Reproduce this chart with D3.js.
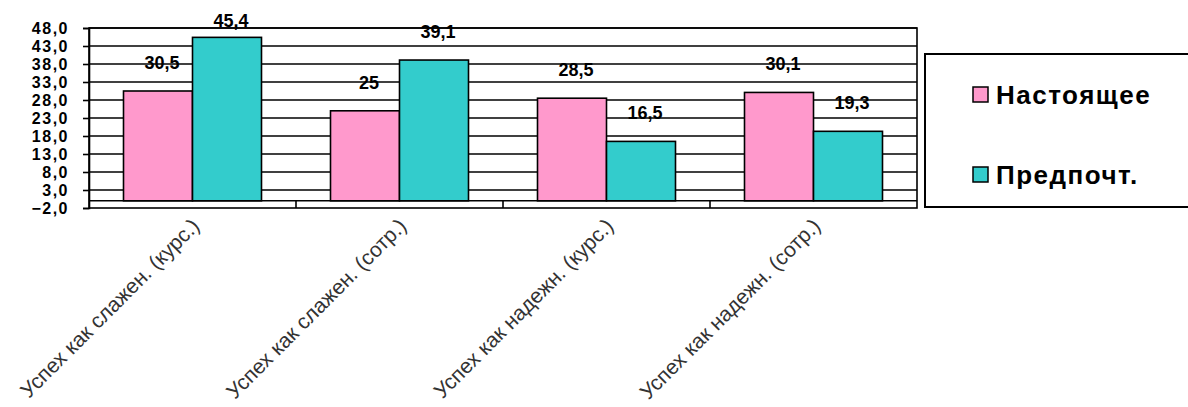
<!DOCTYPE html>
<html>
<head>
<meta charset="utf-8">
<script src="https://cdn.jsdelivr.net/npm/d3@7"></script>
<style>
	body { margin: 0; background: #fff; }
	svg { display: block; }
</style>
</head>
<body>
<svg id="chart"></svg>
<script>
// chart data
var categories = ["Успех как слажен. (курс.)", "Успех как слажен. (сотр.)",
	"Успех как надежн. (курс.)", "Успех как надежн. (сотр.)"];
var seriesNames = ["Настоящее", "Предпочт."];
var nastoyashee = [30.5, 25, 28.5, 30.1];
var predpocht = [45.4, 39.1, 16.5, 19.3];
var yTicks = [-2, 3, 8, 13, 18, 23, 28, 33, 38, 43, 48];
var colors = ["#ff99cc", "#33cccc"];

var W = 1188, H = 407;
var margin = { top: 28, right: 271, bottom: 199, left: 89 },
	width = W - margin.left - margin.right,
	height = H - margin.top - margin.bottom;

var svg = d3.select('#chart')
	.attr('width', W)
	.attr('height', H);

var g = svg.append('g')
	.attr('transform', 'translate(' + margin.left + ',' + margin.top + ')');

var x = d3.scaleBand()
	.domain(categories)
	.range([0, width]);

var x1 = d3.scaleBand()
	.domain(seriesNames)
	.range([0, x.bandwidth()])
	.paddingOuter(0.5)
	.paddingInner(0);

var y = d3.scaleLinear()
	.domain([-2, 48])
	.range([height, 0]);

var fmt = function(v){ return String(v).replace('.', ','); };

// gridlines
g.selectAll('.grid')
	.data(yTicks.slice(1))
	.enter().append('line')
	.attr('class', 'grid')
	.attr('x1', 0).attr('x2', width)
	.attr('y1', function(d){ return y(d); })
	.attr('y2', function(d){ return y(d); })
	.attr('stroke', '#000')
	.attr('stroke-width', 1.6);

// plot border
g.append('rect')
	.attr('width', width)
	.attr('height', height)
	.attr('fill', 'none')
	.attr('stroke', '#000')
	.attr('stroke-width', 1.6);

// y axis
var yAxis = d3.axisLeft(y)
	.tickValues(yTicks)
	.tickSize(6)
	.tickFormat(function(d){ return d3.format('.1f')(d).replace('.', ','); });

var ya = g.append('g').call(yAxis);
ya.select('.domain').attr('stroke', '#000').attr('stroke-width', 1.6);
ya.selectAll('.tick line').attr('stroke', '#000').attr('stroke-width', 1.6);
ya.selectAll('.tick text')
	.attr('x', -20)
	.attr('fill', '#000')
	.style('font-family', '"Liberation Sans", Arial, sans-serif')
	.style('font-weight', 'bold')
	.style('font-size', '16px')
	.style('letter-spacing', '1.5px');

// bars
var rows = categories.map(function(c, i){
	return { cat: c, values: [
		{ key: seriesNames[0], value: nastoyashee[i] },
		{ key: seriesNames[1], value: predpocht[i] }
	]};
});

var groups = g.selectAll('.group')
	.data(rows)
	.enter().append('g')
	.attr('class', 'group')
	.attr('transform', function(d){ return 'translate(' + x(d.cat) + ',0)'; });

groups.selectAll('rect')
	.data(function(d){ return d.values; })
	.enter().append('rect')
	.attr('x', function(d){ return x1(d.key); })
	.attr('y', function(d){ return y(d.value); })
	.attr('width', x1.bandwidth())
	.attr('height', function(d){ return y(0) - y(d.value); })
	.attr('fill', function(d, i){ return colors[i]; })
	.attr('stroke', '#000')
	.attr('stroke-width', 1.6);

// value labels
groups.selectAll('.lbl')
	.data(function(d){ return d.values; })
	.enter().append('text')
	.attr('class', 'lbl')
	.attr('x', function(d){ return x1(d.key) + x1.bandwidth() / 2 + 4; })
	.attr('y', function(d){ return Math.max(y(d.value) - 22, -1); })
	.attr('text-anchor', 'middle')
	.style('font-family', '"Liberation Sans", Arial, sans-serif')
	.style('font-weight', 'bold')
	.style('font-size', '18px')
	.text(function(d){ return fmt(d.value); });

// category axis at zero with ticks between categories
g.append('line')
	.attr('x1', 0).attr('x2', width)
	.attr('y1', y(0)).attr('y2', y(0))
	.attr('stroke', '#000').attr('stroke-width', 1.6);

g.selectAll('.ctick')
	.data(categories.slice(1))
	.enter().append('line')
	.attr('class', 'ctick')
	.attr('x1', function(d){ return x(d); })
	.attr('x2', function(d){ return x(d); })
	.attr('y1', y(0)).attr('y2', y(-2))
	.attr('stroke', '#000').attr('stroke-width', 1.6);

// rotated category labels
g.selectAll('.clbl')
	.data(categories)
	.enter().append('text')
	.attr('class', 'clbl')
	.attr('transform', function(d){
		return 'translate(' + (x(d) + x.bandwidth() / 2 + 3) + ',' + (height + 14) + ') rotate(-45)';
	})
	.attr('text-anchor', 'end')
	.attr('dy', '0.35em')
	.style('font-family', '"Liberation Sans", Arial, sans-serif')
	.style('font-size', '21px')
	.attr('fill', '#333')
	.text(function(d){ return d; });

// legend
var legend = svg.append('g')
	.attr('transform', 'translate(925,54)');

legend.append('rect')
	.attr('width', 280)
	.attr('height', 153)
	.attr('fill', '#fff')
	.attr('stroke', '#000')
	.attr('stroke-width', 2);

var items = legend.selectAll('.item')
	.data(seriesNames)
	.enter().append('g')
	.attr('class', 'item')
	.attr('transform', function(d, i){ return 'translate(48,' + (33 + i * 80) + ')'; });

items.append('rect')
	.attr('width', 15)
	.attr('height', 15)
	.attr('fill', function(d, i){ return colors[i]; })
	.attr('stroke', '#000')
	.attr('stroke-width', 1.5);

items.append('text')
	.attr('x', 23)
	.attr('y', 8)
	.attr('dy', '0.36em')
	.style('font-family', '"Liberation Sans", Arial, sans-serif')
	.style('font-weight', 'bold')
	.style('font-size', '26px')
	.style('letter-spacing', '1.5px')
	.text(function(d){ return d; });
</script>
</body>
</html>
